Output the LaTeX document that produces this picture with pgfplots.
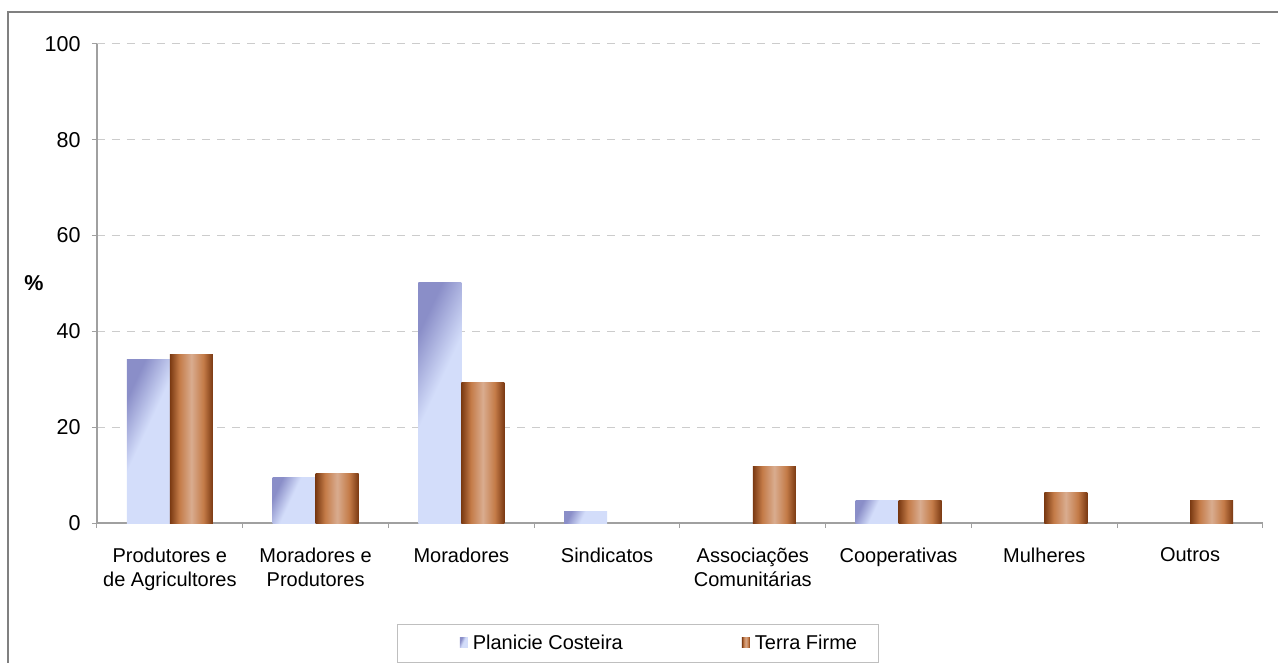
\documentclass[border=0pt]{standalone}
\usepackage{fontspec}
\setmainfont{Liberation Sans}
\usepackage{pgfplots}
\pgfplotsset{compat=1.18}
\definecolor{blD}{HTML}{8A8EC8}
\definecolor{blL}{HTML}{D3DDFA}
\definecolor{brD}{HTML}{7A3912}
\definecolor{brM}{HTML}{C47B48}
\definecolor{brL}{HTML}{D9AC8F}
\definecolor{axg}{HTML}{A0A0A0}
\pgfdeclarehorizontalshading{brownbar}{100bp}{color(0bp)=(brD); color(25bp)=(brD); color(36bp)=(brM); color(50bp)=(brL); color(64bp)=(brM); color(75bp)=(brD); color(100bp)=(brD)}
\pgfdeclarehorizontalshading{bluebar}{100bp}{color(0bp)=(blD); color(27bp)=(blD); color(46bp)=(blL); color(100bp)=(blL)}
\newcommand{\lf}{\fontsize{20bp}{24bp}\selectfont}
\newcommand{\tf}{\fontsize{21.5bp}{24bp}\selectfont}
\begin{document}
\begin{tikzpicture}
\begin{axis}[
  at={(0,0)}, anchor=south west,
  scale only axis, width=1166bp, height=479bp,
  xmin=-0.5, xmax=7.5, ymin=0, ymax=100,
  ytick={0,20,...,100},
  xtick={-0.5,0.5,1.5,2.5,3.5,4.5,5.5,6.5,7.5},
  xticklabels={{Produtores e\\de Agricultores},{Moradores e\\Produtores},Moradores,Sindicatos,{Associações\\Comunitárias},Cooperativas,Mulheres,Outros,{}},
  xticklabel style={align=center, font=\lf, xshift=72.875bp, anchor=north, yshift=-16bp},
  yticklabel style={font=\tf, xshift=-8bp},
  /pgf/number format/assume math mode=true,
  tick align=outside, major tick length=5bp,
  tick style={draw=axg, line width=1bp},
  axis lines*=left,
  axis line style={draw=axg, line width=1.3bp},
  ymajorgrids,
  grid style={draw=gray!40, line width=1bp, dash pattern=on 8bp off 7bp},
  ylabel={\%},
  every axis y label/.style={at={(axis description cs:0,0.5)}, anchor=center, xshift=-63bp, font=\bfseries\tf},
  legend columns=2,
  legend style={at={(axis description cs:0.4824,-0.2505)}, anchor=center, draw=none, fill=none, font=\lf, inner xsep=0bp, inner ysep=9bp, /tikz/every even column/.append style={column sep=117bp}},
]
% Planicie Costeira
\addplot[ybar, bar width=0.295, bar shift=-0.1475, shading=bluebar, shading angle=-25, draw=none, legend image code/.code={\path[shading=bluebar, draw=none] (0bp,-5bp) rectangle (8bp,5bp);}] coordinates {(0,34.2)};
\addlegendentry{\hspace{3bp}Planicie Costeira}
\addplot[ybar, bar width=0.295, bar shift=-0.1475, shading=bluebar, shading angle=-25, draw=none, forget plot] coordinates {(1,9.4)};
\addplot[ybar, bar width=0.295, bar shift=-0.1475, shading=bluebar, shading angle=-25, draw=none, forget plot] coordinates {(2,50.3)};
\addplot[ybar, bar width=0.295, bar shift=-0.1475, shading=bluebar, shading angle=-25, draw=none, forget plot] coordinates {(3,2.5)};
\addplot[ybar, bar width=0.295, bar shift=-0.1475, shading=bluebar, shading angle=-25, draw=none, forget plot] coordinates {(5,4.8)};
% Terra Firme
\addplot[ybar, bar width=0.295, bar shift=0.1475, shading=brownbar, draw=none, legend image code/.code={\path[shading=brownbar, draw=none] (0bp,-5bp) rectangle (8bp,5bp);}] coordinates {(0,35.1)};
\addlegendentry{\hspace{3bp}Terra Firme}
\addplot[ybar, bar width=0.295, bar shift=0.1475, shading=brownbar, draw=none, forget plot] coordinates {(1,10.4)};
\addplot[ybar, bar width=0.295, bar shift=0.1475, shading=brownbar, draw=none, forget plot] coordinates {(2,29.4)};
\addplot[ybar, bar width=0.295, bar shift=0.1475, shading=brownbar, draw=none, forget plot] coordinates {(4,11.7)};
\addplot[ybar, bar width=0.295, bar shift=0.1475, shading=brownbar, draw=none, forget plot] coordinates {(5,4.6)};
\addplot[ybar, bar width=0.295, bar shift=0.1475, shading=brownbar, draw=none, forget plot] coordinates {(6,6.3)};
\addplot[ybar, bar width=0.295, bar shift=0.1475, shading=brownbar, draw=none, forget plot] coordinates {(7,4.6)};
\end{axis}
% legend frame and outer chart frame
\draw[draw=gray!50, line width=1bp] (300bp,-101bp) rectangle (781bp,-139bp);
\draw[draw=gray, line width=2bp] (-89bp,-150bp) -- (-89bp,510.5bp) -- (1190bp,510.5bp);
\pgfresetboundingbox
\path[use as bounding box] (-97bp,-140bp) rectangle (1181bp,523bp);
\end{tikzpicture}
\end{document}
